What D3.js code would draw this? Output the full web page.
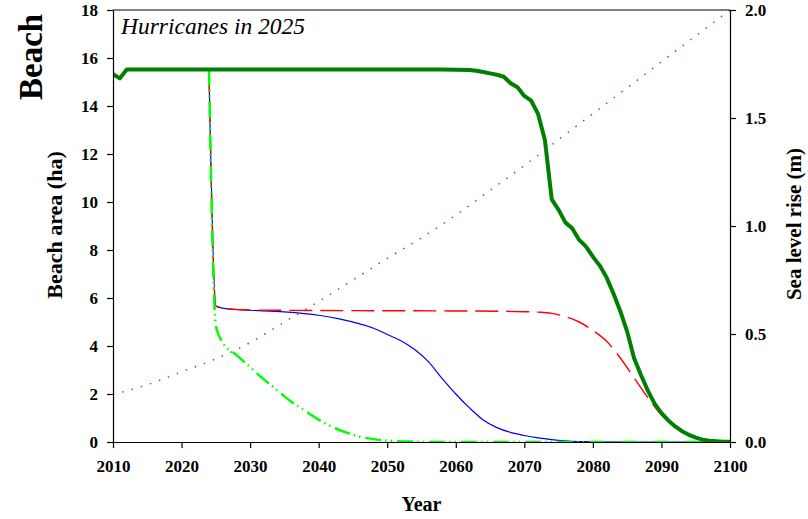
<!DOCTYPE html>
<html>
<head>
<meta charset="utf-8">
<script src="https://cdn.jsdelivr.net/npm/d3@7"></script>
<style>
  body { margin: 0; background: #fff; }
  svg text { font-family: "Liberation Serif", "Times New Roman", serif !important; }
</style>
</head>
<body>
<svg id="chart" width="808" height="519"></svg>
<script>
// Axis ticks
const yearTicks = [2010, 2020, 2030, 2040, 2050, 2060, 2070, 2080, 2090, 2100];
const areaTicks = [0, 2, 4, 6, 8, 10, 12, 14, 16, 18];
const riseTicks = [0, 0.5, 1.0, 1.5, 2.0];

// Sea level rise (m), right axis
const riseYears  = [2010, 2015, 2020, 2025, 2030, 2035, 2040, 2045, 2050, 2055, 2060, 2065, 2070, 2075, 2080, 2085, 2090, 2095, 2100];
const riseValues = [0.22, 0.265, 0.325, 0.385, 0.46, 0.555, 0.65, 0.75, 0.85, 0.945, 1.05, 1.165, 1.28, 1.40, 1.52, 1.64, 1.76, 1.88, 2.00];

// Beach area (ha), scenario drawn in thick dark green
const areaAYears  = [2010, 2011, 2012, 2020, 2030, 2040, 2050, 2058, 2062, 2063, 2064, 2065, 2066, 2067, 2068, 2069, 2070, 2071, 2072, 2073,
                     2074, 2075, 2076, 2077, 2078, 2079, 2080, 2081, 2082, 2083, 2084, 2085, 2086, 2087, 2088, 2089, 2090,
                     2091, 2092, 2093, 2094, 2095, 2096, 2097, 2098, 2099, 2100];
const areaAValues = [15.33, 15.15, 15.52, 15.52, 15.52, 15.52, 15.52, 15.52, 15.5, 15.47, 15.42, 15.36, 15.3, 15.22, 14.95, 14.78, 14.42, 14.22, 13.67, 12.58,
                     10.11, 9.67, 9.14, 8.9, 8.42, 8.14, 7.72, 7.35, 6.85, 6.19, 5.45, 4.6, 3.5, 2.8, 2.15, 1.6, 1.2,
                     0.9, 0.65, 0.45, 0.3, 0.18, 0.1, 0.05, 0.03, 0.01, 0.01];

// Beach area (ha), solid blue scenario
const areaBYears  = [2024, 2025, 2026, 2028, 2030, 2035, 2040, 2043, 2046, 2048, 2050, 2052, 2054, 2056, 2058, 2060, 2062, 2064,
                     2066, 2068, 2070, 2072, 2074, 2076, 2078, 2080, 2085, 2100];
const areaBValues = [15.5, 5.67, 5.58, 5.52, 5.49, 5.42, 5.28, 5.13, 4.92, 4.74, 4.48, 4.22, 3.85, 3.35, 2.65, 2.0, 1.42, 0.92,
                     0.6, 0.4, 0.27, 0.17, 0.1, 0.05, 0.02, 0.01, 0, 0];

// Beach area (ha), dashed red scenario
const areaCYears  = [2024, 2025, 2026, 2028, 2030, 2040, 2050, 2060, 2066, 2070, 2072, 2074, 2076, 2078, 2080, 2082, 2084, 2086,
                     2088, 2090, 2092, 2094, 2096, 2098, 2100];
const areaCValues = [15.5, 5.67, 5.58, 5.52, 5.5, 5.48, 5.47, 5.46, 5.45, 5.43, 5.41, 5.36, 5.22, 5.0, 4.65, 4.2, 3.5, 2.68,
                     1.86, 1.12, 0.62, 0.27, 0.1, 0.03, 0];

// Beach area (ha), bright green dash-dot-dot scenario
const areaDYears  = [2024, 2025, 2026, 2028, 2030, 2032, 2034, 2036, 2038, 2040, 2042, 2044, 2046, 2048, 2050, 2053, 2056, 2100];
const areaDValues = [15.5, 4.85, 4.15, 3.63, 3.12, 2.61, 2.14, 1.68, 1.3, 0.93, 0.62, 0.4, 0.22, 0.12, 0.06, 0.02, 0, 0];

const serif = "'Liberation Serif', 'Times New Roman', serif";
const svg = d3.select("#chart");
const plotLeft = 113, plotRight = 730, plotTop = 10, plotBottom = 442;

const x  = d3.scaleLinear().domain([2010, 2100]).range([plotLeft, plotRight]);
const yL = d3.scaleLinear().domain([0, 18]).range([plotBottom, plotTop]);
const yR = d3.scaleLinear().domain([0, 2]).range([plotBottom, plotTop]);

const zip = (xs, ys) => xs.map((v, i) => [v, ys[i]]);

svg.append("defs").append("clipPath").attr("id", "plot")
  .append("rect").attr("x", plotLeft).attr("y", plotTop)
  .attr("width", plotRight - plotLeft).attr("height", plotBottom - plotTop);

const plot = svg.append("g").attr("clip-path", "url(#plot)");

const lineL = (curve) => d3.line().x(d => x(d[0])).y(d => yL(d[1])).curve(curve);
const lineR = d3.line().x(d => x(d[0])).y(d => yR(d[1])).curve(d3.curveMonotoneX);

plot.append("path").datum(zip(areaBYears, areaBValues))
  .attr("d", lineL(d3.curveMonotoneX))
  .attr("fill", "none").attr("stroke", "#0000ff").attr("stroke-width", 1.2);

plot.append("path").datum(zip(areaCYears, areaCValues))
  .attr("d", lineL(d3.curveMonotoneX))
  .attr("fill", "none").attr("stroke", "#ff0000").attr("stroke-width", 1.4)
  .attr("stroke-dasharray", "23,8");

plot.append("path").datum(zip(areaDYears, areaDValues))
  .attr("d", lineL(d3.curveMonotoneX))
  .attr("fill", "none").attr("stroke", "#00ff00").attr("stroke-width", 2.5)
  .attr("stroke-dasharray", "16,4,1.5,4,1.5,5");

plot.append("path").datum(zip(areaAYears, areaAValues))
  .attr("d", lineL(d3.curveLinear))
  .attr("fill", "none").attr("stroke", "#008000").attr("stroke-width", 4)
  .attr("stroke-linejoin", "round");

plot.append("path").datum(zip(riseYears, riseValues))
  .attr("d", lineR)
  .attr("fill", "none").attr("stroke", "#a030b0").attr("stroke-width", 1.5)
  .attr("stroke-dasharray", "1.5,8.1");

// Axes
const tickFont = g => {
  g.attr("font-family", serif).attr("font-size", 17).attr("font-weight", "bold");
  g.selectAll("text")
    .style("font-family", serif).style("font-size", "17px").style("font-weight", "bold")
    .attr("fill", "#000");
};

svg.append("g").attr("transform", `translate(0,${plotBottom})`)
  .call(d3.axisBottom(x).tickValues(yearTicks).tickFormat(d3.format("d")).tickSize(6).tickSizeOuter(0).tickPadding(12))
  .call(tickFont);

svg.append("g").attr("transform", `translate(${plotLeft},0)`)
  .call(d3.axisLeft(yL).tickValues(areaTicks).tickFormat(d3.format("d")).tickSize(6).tickSizeOuter(0).tickPadding(9))
  .call(tickFont);

svg.append("g").attr("transform", `translate(${plotRight},0)`)
  .call(d3.axisRight(yR).tickValues(riseTicks).tickFormat(d3.format(".1f")).tickSize(6).tickSizeOuter(0).tickPadding(9))
  .call(tickFont);

svg.selectAll(".domain").attr("stroke", "#000").attr("stroke-width", 1.2);
svg.selectAll(".tick line").attr("stroke", "#000").attr("stroke-width", 1.2);

// Top frame line
svg.append("line").attr("x1", plotLeft).attr("x2", plotRight).attr("y1", plotTop).attr("y2", plotTop)
  .attr("stroke", "#000").attr("stroke-width", 1.2);

// Titles
svg.append("text").attr("x", (plotLeft + plotRight) / 2).attr("y", 511)
  .attr("text-anchor", "middle").attr("font-size", 20).attr("font-weight", "bold").text("Year");

svg.append("text").attr("transform", "translate(62,225) rotate(-90)")
  .attr("text-anchor", "middle").attr("font-size", 22).attr("font-weight", "bold").text("Beach area (ha)");

svg.append("text").attr("transform", "translate(801,224) rotate(-90)")
  .attr("text-anchor", "middle").attr("font-size", 21).attr("font-weight", "bold").text("Sea level rise (m)");

svg.append("text").attr("transform", "translate(42,100) rotate(-90)")
  .attr("text-anchor", "start").attr("font-size", 33).attr("font-weight", "bold").text("Beach");

svg.append("text").attr("x", 121).attr("y", 34)
  .attr("font-size", 23.5).attr("font-style", "italic").text("Hurricanes in 2025");
</script>
</body>
</html>
